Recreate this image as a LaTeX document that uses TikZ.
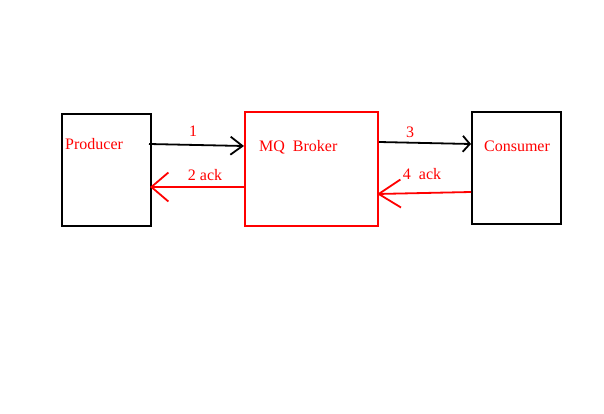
\documentclass[tikz,border=0pt]{standalone}
\usepackage{fontspec}
\setmainfont{Liberation Serif}
\usetikzlibrary{arrows.meta}
\tikzset{
  box/.style={draw=black, line width=2pt, minimum width=89pt, minimum height=112pt, inner sep=0pt},
  redbox/.style={box, draw=red, minimum width=133pt, minimum height=114pt},
  lbl/.style={text=red, font=\fontsize{16}{18}\selectfont, inner sep=0pt},
  msg/.style={line width=1.8pt},
}
\begin{document}
\begin{tikzpicture}[x=1pt,y=-1pt]
        \useasboundingbox (0,0) rectangle (604,414);
        % Cajas
        \node[box] (prod) at (106.5,170) {};
        \node[redbox] (broker) at (311.5,169) {};
        \node[box] (cons) at (516.5,168) {};
        % Textos de las cajas
        \node[lbl, anchor=west] (prodtxt) at (65,144) {Producer};
        \node[lbl, anchor=west] (brokertxt) at (259,147) {MQ\ \ Broker};
        \node[lbl] (constxt) at (517,146) {Consumer};
        % Mensajes
        \draw[msg, -{Straight Barb[length=12pt,width=18pt]}] ([xshift=-3pt,yshift=26pt]prod.east) -- ([yshift=23pt]broker.west);
        \draw[msg, red, -{Straight Barb[length=17pt,width=29pt]}] ([yshift=-18pt]broker.west) -- ([xshift=-2pt,yshift=-17pt]prod.east);
        \draw[msg, -{Straight Barb[length=7pt,width=16pt]}] ([yshift=27pt]broker.east) -- ([yshift=24pt]cons.west);
        \draw[msg, red, -{Straight Barb[length=22pt,width=28pt]}] ([yshift=-24pt]cons.west) -- ([xshift=-2pt,yshift=-25pt]broker.east);
        % Etiquetas
        \node[lbl] (m1) at (193,131) {1};
        \node[lbl] (m2) at (205,175) {2 ack};
        \node[lbl] (m3) at (410,132) {3};
        \node[lbl] (m4) at (422,174) {4\ \ ack};
\end{tikzpicture}
\end{document}
